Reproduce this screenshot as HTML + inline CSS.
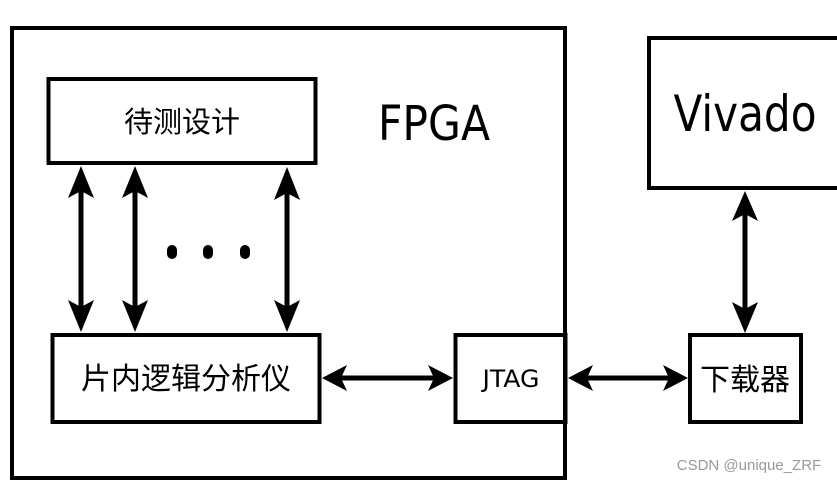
<!DOCTYPE html>
<html><head><meta charset="utf-8"><style>
html,body{margin:0;padding:0;background:#fff;}
svg{display:block}
</style></head><body>
<svg width="837" height="482" viewBox="0 0 837 482" xmlns="http://www.w3.org/2000/svg">
<g fill="none" stroke="#000" stroke-width="4">
<rect x="12" y="28" width="553" height="450"/>
<rect x="48.5" y="79" width="267" height="84"/>
<rect x="52.5" y="335" width="267" height="87"/>
<rect x="455.5" y="335" width="110" height="87"/>
<rect x="649" y="38" width="200" height="150"/>
<rect x="690" y="335" width="111" height="87"/>
</g>
<g stroke="#000" stroke-width="5">
<line x1="81" y1="180" x2="81" y2="318"/>
<line x1="135" y1="180" x2="135" y2="318"/>
<line x1="287" y1="180" x2="287" y2="318"/>
<line x1="335" y1="378" x2="440" y2="378"/>
<line x1="580" y1="378" x2="675" y2="378"/>
<line x1="745" y1="205" x2="745" y2="320"/>
</g>
<g fill="#000">
<!-- vertical arrows: up heads at top, down heads at bottom -->
<polygon points="81,166 94,198 81,191 68,198"/>
<polygon points="81,332 94,300 81,307 68,300"/>
<polygon points="135,166 148,198 135,191 122,198"/>
<polygon points="135,332 148,300 135,307 122,300"/>
<polygon points="287,167 300,200 287,193 274,200"/>
<polygon points="287,332 300,300 287,307 274,300"/>
<polygon points="745,191 758,221 745,214 732,221"/>
<polygon points="745,333 758,302 745,309 732,302"/>
<!-- horizontal -->
<polygon points="322,378 347,365 341,378 347,391"/>
<polygon points="453,378 428,365 434,378 428,391"/>
<polygon points="568,378 593,365 587,378 593,391"/>
<polygon points="688,378 663,365 669,378 663,391"/>
<rect x="167" y="245" width="10" height="14" rx="5"/>
<rect x="203" y="245" width="10" height="14" rx="5"/>
<rect x="240" y="245" width="10" height="14" rx="5"/>
</g>
<g font-family="'DejaVu Sans','Noto Sans CJK SC',sans-serif" fill="#000">
<text x="182" y="132" font-size="29" text-anchor="middle">待测设计</text>
<text x="186" y="389" font-size="30" text-anchor="middle">片内逻辑分析仪</text>
<text x="434" y="140" font-size="48" text-anchor="middle" textLength="112" lengthAdjust="spacingAndGlyphs">FPGA</text>
<text x="511" y="387" font-size="24" text-anchor="middle" textLength="57" lengthAdjust="spacingAndGlyphs">JTAG</text>
<text x="745" y="131" font-size="50" text-anchor="middle" textLength="143" lengthAdjust="spacingAndGlyphs">Vivado</text>
<text x="745" y="390" font-size="30" text-anchor="middle">下载器</text>
</g>
<text x="749" y="470" font-family="'Liberation Sans',sans-serif" font-size="15" fill="#999" text-anchor="middle">CSDN @unique_ZRF</text>
</svg>
</body></html>
